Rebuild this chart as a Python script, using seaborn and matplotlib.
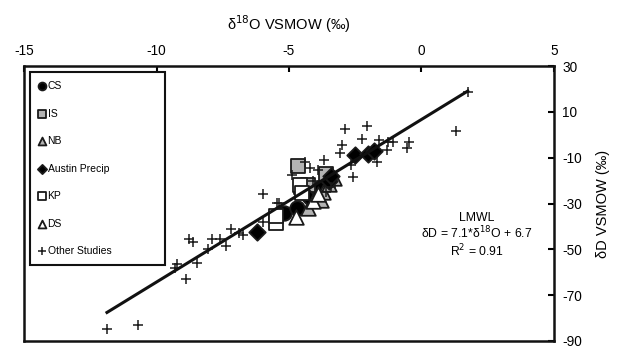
import pandas as pd
import seaborn as sns
import matplotlib.pyplot as plt

# delta18O / deltaD values (per mil)
CS_X = [-5.2, -4.7, -4.2, -4.0, -3.8]
CS_Y = [-34.0, -32.0, -27.0, -25.0, -23.0]

IS_X = [-4.65, -4.55, -4.3, -3.6]
IS_Y = [-13.5, -23.0, -22.0, -17.0]

NB_X = [-4.3, -3.8, -3.7, -3.5, -3.3]
NB_Y = [-32.0, -28.5, -25.0, -21.5, -19.0]

AUSTIN_X = [-6.2, -4.3, -3.5, -3.4, -2.5, -2.0, -1.8]
AUSTIN_Y = [-42.5, -27.0, -20.0, -18.0, -9.0, -8.3, -7.0]

KP_X = [-5.5, -5.5, -4.6, -4.5]
KP_Y = [-38.5, -35.5, -22.0, -25.5]

DS_X = [-4.75, -4.1, -3.9]
DS_Y = [-36.0, -29.0, -26.0]

OTHER_X = [-11.87, -10.70, -9.23, -9.30, -8.47, -8.89, -8.77, -8.62, -7.91, -7.60,
           -8.06, -7.38, -7.19, -6.89, -6.74, -5.98, -5.45, -5.38, -5.98, -4.89,
           -4.40, -3.68, -4.10, -3.40, -2.89, -2.06, -2.25, -3.00, -3.08, -1.60,
           -1.26, -1.08, -0.47, -0.55, -1.30, -1.68, -2.66, -2.58, 1.30, 1.75,
           -4.20, -3.90, -3.60]
OTHER_Y = [-84.8, -83.1, -56.5, -58.2, -56.0, -63.0, -45.5, -46.9, -45.5, -45.5,
           -49.9, -48.6, -41.2, -42.9, -43.8, -38.1, -29.8, -29.8, -25.9, -17.6,
           -11.9, -11.0, -20.0, -23.0, 2.5, 3.8, -1.9, -4.5, -8.0, -2.3,
           -3.2, -3.2, -3.2, -5.8, -6.7, -11.9, -13.2, -18.5, 1.6, 18.6,
           -14.5, -15.5, -25.0]

LMWL_SLOPE = 7.1
LMWL_INTERCEPT = 6.7

X_TICKS = [-15, -10, -5, 0, 5]
Y_TICKS = [-90, -70, -50, -30, -10, 10, 30]

# label, x, y, marker, face colour, size in plot, size in legend
SERIES = [
    ("CS", CS_X, CS_Y, "o", "black", 110, 32),
    ("IS", IS_X, IS_Y, "s", "#b3b3b3", 95, 26),
    ("NB", NB_X, NB_Y, "^", "#b3b3b3", 110, 32),
    ("Austin Precip", AUSTIN_X, AUSTIN_Y, "D", "black", 70, 22),
    ("KP", KP_X, KP_Y, "s", "white", 95, 26),
    ("DS", DS_X, DS_Y, "^", "white", 110, 32),
]

plt.rcParams["font.family"] = ["Liberation Sans", "DejaVu Sans"]
plt.rcParams["axes.unicode_minus"] = False

fig = plt.figure(figsize=(6.33, 3.5), dpi=100)
ax = fig.add_axes([0.038, 0.026, 0.837, 0.785])

for label, xs, ys, marker, face, size, _ in SERIES:
    frame = pd.DataFrame({"x": xs, "y": ys})
    sns.scatterplot(data=frame, x="x", y="y", marker=marker, color=face,
                    edgecolor="#1a1a1a", linewidth=1.3, s=size, label=label,
                    ax=ax, zorder=3)

other = pd.DataFrame({"x": OTHER_X, "y": OTHER_Y})
sns.scatterplot(data=other, x="x", y="y", marker="+", color="#1a1a1a",
                linewidth=1.1, s=60, label="Other Studies", ax=ax, zorder=4)

line_x = [min(OTHER_X), max(OTHER_X)]
line_y = [LMWL_SLOPE * v + LMWL_INTERCEPT for v in line_x]
ax.plot(line_x, line_y, color="#111111", linewidth=2.2, zorder=5)

ax.set_xlim(-15, 5)
ax.set_ylim(-90, 30)
ax.set_xticks(X_TICKS)
ax.set_yticks(Y_TICKS)
ax.xaxis.tick_top()
ax.yaxis.tick_right()
ax.xaxis.set_label_position("top")
ax.yaxis.set_label_position("right")
ax.tick_params(direction="in", length=4, width=1.5, labelsize=9.8, pad=6)
ax.set_xlabel("δ$^{18}$O VSMOW (‰)", fontsize=10.5, labelpad=10)
ax.set_ylabel("δD VSMOW (‰)", fontsize=10.5, labelpad=10)
for spine in ax.spines.values():
    spine.set_linewidth(1.8)
    spine.set_color("#111111")

ax.text(2.1, -44.0, "LMWL\nδD = 7.1*δ$^{18}$O + 6.7\nR$^2$ = 0.91",
        ha="center", va="center", fontsize=8.8, linespacing=1.1)

leg = ax.legend(loc="upper left", bbox_to_anchor=(0.011, 0.978, 0.255, 0.0),
                mode="expand", borderaxespad=0, fontsize=7.5,
                labelspacing=1.68, handlelength=0.6, handletextpad=0.25,
                borderpad=0.85, frameon=True, fancybox=False)
leg.get_frame().set_edgecolor("#111111")
leg.get_frame().set_linewidth(1.5)
leg.get_frame().set_alpha(1)
legend_sizes = [entry[6] for entry in SERIES] + [40]
for handle, size in zip(leg.legend_handles, legend_sizes):
    handle.set_sizes([size])

fig.savefig("out.png", dpi=100)
